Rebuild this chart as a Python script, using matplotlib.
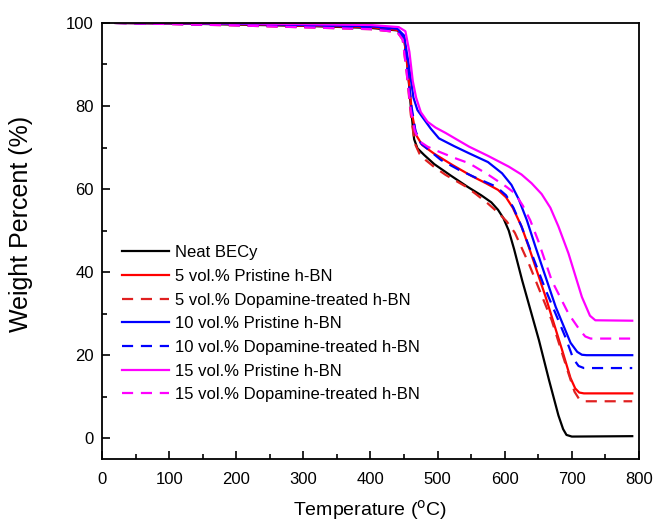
import matplotlib
matplotlib.use('Agg')
import matplotlib.pyplot as plt
from matplotlib.ticker import MultipleLocator

plt.rcParams['font.family'] = ['Liberation Sans', 'DejaVu Sans']

# TGA curves (temperature in C, weight %)
neat_t = [20, 100, 200, 300, 400, 440, 450, 455, 460, 465, 470, 480, 495, 520, 545, 565, 580, 590, 598, 606, 614, 626, 651, 666, 680, 687, 692, 700, 790]
neat_w = [100, 99.9, 99.6, 99.3, 98.8, 98.2, 96.5, 90, 80, 72, 69.8, 68.2, 66.0, 63.2, 60.5, 58.5, 56.8, 55.0, 53.0, 50.0, 45.5, 38, 23.6, 14, 5.5, 2.2, 0.8, 0.4, 0.5]

p5_t = [20, 200, 400, 440, 450, 456, 462, 468, 477, 495, 522, 550, 572, 590, 602, 612, 625, 636, 661, 685, 698, 705, 711, 718, 790]
p5_w = [100, 99.7, 99.0, 98.3, 96.5, 88, 78, 73, 70.6, 68.5, 65.8, 63.2, 61.4, 59.8, 58.0, 55.5, 51, 46, 34, 21.5, 14.5, 12.0, 11.0, 10.8, 10.8]

d5_t = [20, 200, 400, 440, 448, 454, 460, 466, 473, 482, 495, 512, 542, 557, 575, 591, 603, 615, 636, 670, 695, 704, 711, 720, 790]
d5_w = [100, 99.4, 98.5, 97.8, 96, 88, 78, 71, 68.5, 67, 65.3, 63.4, 60.6, 58.8, 56.5, 54.2, 52.2, 49.5, 42, 28.4, 15.6, 11.2, 9.4, 8.9, 8.9]

p10_t = [20, 200, 400, 440, 450, 457, 464, 470, 477, 490, 502, 525, 547, 575, 596, 610, 621, 633, 646, 676, 698, 708, 715, 722, 790]
p10_w = [100, 99.8, 99.2, 98.6, 97, 90, 82, 79, 77.4, 74.5, 72.2, 70.3, 68.6, 66.5, 63.8, 61.0, 57.5, 52.5, 46, 31.6, 23, 20.8, 20.1, 20, 20]

d10_t = [20, 200, 400, 440, 449, 455, 461, 467, 475, 487, 505, 532, 560, 587, 602, 613, 625, 640, 661, 690, 702, 710, 718, 790]
d10_w = [100, 99.5, 98.7, 98, 96.5, 89, 80, 74, 71, 69.4, 67, 64.6, 62.5, 60.6, 58.5, 55.5, 51, 44.5, 35.7, 24.5, 19.2, 17.4, 16.9, 16.9]

p15_t = [20, 200, 400, 442, 452, 458, 463, 468, 475, 485, 497, 512, 530, 547, 575, 606, 625, 640, 655, 668, 680, 695, 715, 727, 735, 790]
p15_w = [100, 99.9, 99.5, 99, 98, 93, 86, 82, 78.5, 76.2, 74.8, 73.5, 71.8, 70.2, 68, 65.4, 63.5, 61.4, 58.8, 55.5, 51.0, 44.5, 34, 29.5, 28.4, 28.3]

d15_t = [20, 200, 400, 440, 448, 454, 460, 466, 473, 485, 502, 525, 547, 575, 602, 615, 627, 638, 650, 670, 695, 712, 720, 728, 790]
d15_w = [100, 99.4, 98.5, 97.8, 96, 88, 79, 74, 71.5, 70.2, 69, 67.5, 66.2, 63.5, 60.6, 59.0, 56.0, 52.5, 47.5, 38, 30, 26.0, 24.5, 24, 24]

series = [
    ('Neat BECy', neat_t, neat_w, 'black', '-'),
    ('5 vol.% Pristine h-BN', p5_t, p5_w, '#ff0000', '-'),
    ('5 vol.% Dopamine-treated h-BN', d5_t, d5_w, '#e02020', '--'),
    ('10 vol.% Pristine h-BN', p10_t, p10_w, '#0000ff', '-'),
    ('10 vol.% Dopamine-treated h-BN', d10_t, d10_w, '#0000ff', '--'),
    ('15 vol.% Pristine h-BN', p15_t, p15_w, '#ff00ff', '-'),
    ('15 vol.% Dopamine-treated h-BN', d15_t, d15_w, '#ff00ff', '--'),
]

fig = plt.figure(figsize=(6.54, 5.21), dpi=100)
ax = fig.add_axes([0.156, 0.119, 0.821, 0.837])

for label, t, w, c, ls in series:
    if ls == '--':
        ax.plot(t, w, color=c, ls=ls, lw=1.6, dashes=(5, 3.5), label=label)
    else:
        ax.plot(t, w, color=c, ls=ls, lw=1.6, label=label)

ax.set_xlim(0, 800)
ax.set_ylim(-5, 100)
ax.xaxis.set_major_locator(MultipleLocator(100))
ax.xaxis.set_minor_locator(MultipleLocator(50))
ax.yaxis.set_major_locator(MultipleLocator(20))
ax.yaxis.set_minor_locator(MultipleLocator(10))
ax.tick_params(which='both', direction='in', top=False, right=False, width=1.2, labelsize=12)
ax.tick_params(which='major', length=6)
ax.tick_params(which='minor', length=3.5)
ax.tick_params(axis='x', pad=9)
ax.tick_params(axis='y', pad=6)
for s in ax.spines.values():
    s.set_linewidth(1.3)

ax.set_xlabel('Temperature ($^{\\rm o}$C)', fontsize=14, labelpad=8)
ax.set_ylabel('Weight Percent (%)', fontsize=18)
ax.yaxis.set_label_coords(-0.128, 0.54)

ax.legend(loc='lower left', bbox_to_anchor=(0.025, 0.115), frameon=False, fontsize=12,
          handlelength=2.8, handletextpad=0.4, labelspacing=0.52, borderaxespad=0)

fig.savefig('out.png', dpi=100)
